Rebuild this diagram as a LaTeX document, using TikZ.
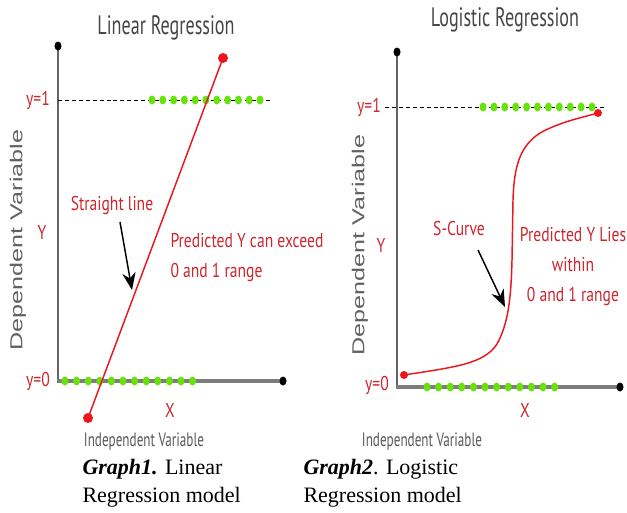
\documentclass[tikz,border=0pt]{standalone}
\usepackage{fontspec}
\setmainfont{Liberation Serif}
\newfontfamily\plotfont[FakeStretch=0.78]{PT Sans}
\newfontfamily\headfont[FakeStretch=0.68]{PT Sans}
\newfontfamily\sidefont[FakeStretch=1.45]{Liberation Sans}
\usetikzlibrary{arrows.meta}

\definecolor{labelred}{RGB}{204,38,46}
\definecolor{curvered}{RGB}{238,22,30}
\definecolor{dotgreen}{RGB}{104,226,12}
\definecolor{axisgrey}{RGB}{125,125,125}
\definecolor{textgrey}{RGB}{70,70,70}

\tikzset{every picture/.style={line width=0.75pt}}
\tikzset{
  redlabel/.style={text=labelred, font=\plotfont\fontsize{15}{22.5}\selectfont, inner sep=0pt},
  headlabel/.style={text=textgrey, font=\headfont\fontsize{20}{22}\selectfont, inner sep=0pt},
  sidelabel/.style={text=textgrey!85, font=\sidefont\fontsize{13}{15}\selectfont, inner sep=0pt, rotate=90},
  footlabel/.style={text=textgrey!90, font=\headfont\fontsize{14.5}{16}\selectfont, inner sep=0pt},
  caption/.style={font=\fontsize{16.5}{21}\selectfont, align=left, inner sep=0pt},
  yaxis/.style={draw=axisgrey!80!black, line width=1.5pt},
  xaxis/.style={draw=axisgrey, line width=2.6pt},
  enddot/.style={fill=black, x radius=3.5, y radius=4.5},
  greendot/.style={fill=dotgreen, x radius=3.5, y radius=4.5},
  reddot/.style={fill=curvered},
  levelline/.style={black, dash pattern={on 3pt off 2.2pt}},
  curve/.style={curvered, line width=1.1pt},
  pointer/.style={-{Stealth[length=13,width=10]}, black, line width=1.1pt}
}

\begin{document}
\begin{tikzpicture}[x=0.75pt,y=0.75pt,yscale=-1,xscale=1]
\useasboundingbox (0,0) rectangle (627,512);

%% ---------------- linear regression (left) ----------------
\draw [yaxis] (58,46) -- (58,381) ;
\draw [xaxis] (57,381) -- (283,381) ;
\fill [enddot] (58,46) ellipse [];
\fill [enddot] (283,381) ellipse [];
\draw [levelline] (58,100) -- (272,100) ;

\foreach \i in {0,...,10} \fill [greendot] (152+10.8*\i,100) ellipse [];
\foreach \i in {0,...,11} \fill [greendot] (65+11.6*\i,381) ellipse [];

\draw [curve] (88,418) -- (223,58) ;
\fill [reddot] (88,418) circle (5);
\fill [reddot] (223,58) circle (5);

\coordinate (tailA) at (120,222);
\coordinate (headA) at (132,290);
\draw [pointer] (tailA) -- (headA) ;

%% ---------------- logistic regression (right) ----------------
\draw [yaxis] (397,52) -- (397,387) ;
\draw [xaxis] (396,387) -- (620,387) ;
\fill [enddot] (397,52) ellipse [];
\fill [enddot] (620,387) ellipse [];
\draw [levelline] (385,107) -- (604,107) ;

\foreach \i in {0,...,10} \fill [greendot] (483+10.9*\i,107) ellipse [];
\foreach \i in {0,...,11} \fill [greendot] (427+11.6*\i,387) ellipse [];

\draw [curve] (404,375) .. controls (455,367) and (484,364) .. (497,344)
  .. controls (508,324) and (511,300) .. (512,260) -- (513,200)
  .. controls (514,166) and (520,146) .. (540,133)
  .. controls (560,122) and (580,118) .. (598,113) ;
\fill [reddot] (404,375) circle (4);
\fill [reddot] (598,113) circle (4);

\coordinate (tailB) at (478,250);
\coordinate (headB) at (505,307);
\draw [pointer] (tailB) -- (headB) ;

%% ---------------- text ----------------
\node (titleA) at (166,28) [headlabel] {Linear Regression};
\node (titleB) at (505,20) [headlabel] {Logistic Regression};

\node (oneA) at (38,100) [redlabel] {y=1};
\node (zeroA) at (38,381) [redlabel] {y=0};
\node (oneB) at (369,107) [redlabel] {y=1};
\node (zeroB) at (377,385) [redlabel] {y=0};

\node (yA) at (42,232) [redlabel] {Y};
\node (yB) at (381,245) [redlabel] {Y};
\node (xA) at (170,410) [redlabel] {X};
\node (xB) at (525,410) [redlabel] {X};

\node (straight) at (112,205) [redlabel] {Straight line};
\node (exceed) at (170,258) [redlabel, anchor=west, align=left] {Predicted Y can exceed\\0 and 1 range};
\node (scurve) at (459,228) [redlabel] {S-Curve};
\node (within) at (573,267) [redlabel, align=center] {Predicted Y Lies\\within\\0 and 1 range};

\node (depA) at (18,240) [sidelabel] {Dependent Variable};
\node (depB) at (360,245) [sidelabel] {Dependent Variable};
\node (indA) at (144,442) [footlabel] {Independent Variable};
\node (indB) at (422,442) [footlabel] {Independent Variable};

\node (capA) at (82,483) [caption, anchor=west] {\textbf{\textit{Graph1.}} Linear\\Regression model};
\node (capB) at (303,483) [caption, anchor=west] {\textbf{\textit{Graph2}}. Logistic\\Regression model};

\end{tikzpicture}
\end{document}
